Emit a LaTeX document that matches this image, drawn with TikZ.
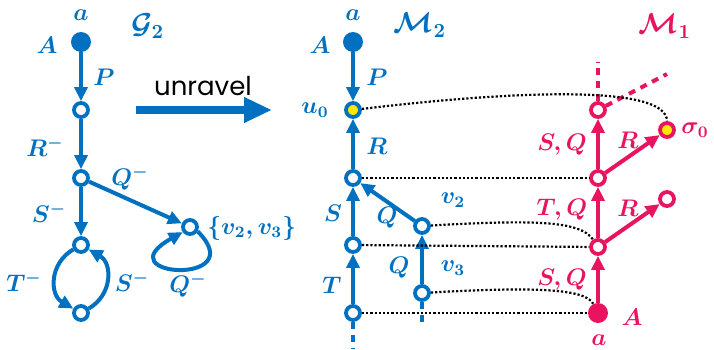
\documentclass[tikz,border=0pt]{standalone}
\usepackage{amsmath,amssymb}
\usepackage{fontspec}
\newfontfamily\unravelfont{Poppins}
\usepackage{tikz}
\usetikzlibrary{arrows.meta}
\definecolor{gblue}{RGB}{0,112,192}
\definecolor{gred}{RGB}{232,20,95}
\definecolor{gyellow}{RGB}{255,232,0}
\tikzset{
  state/.style={circle, draw, fill=white, line width=1.9pt, minimum size=7pt, inner sep=0pt},
  root/.style={circle, fill, minimum size=10pt, inner sep=0pt},
  start/.style={state, fill=gyellow},
  arrowline/.style={-{Triangle[length=7pt,width=6.5pt]}, line width=2pt},
  stub/.style={line width=2pt, dash pattern=on 3.5pt off 3pt},
  link/.style={black, line width=1.1pt, dash pattern=on 1.1pt off 1pt},
  lbl/.style={font=\large\boldmath, inner sep=1pt},
  title/.style={font=\Large\boldmath, inner sep=1pt}
}

\begin{document}
\begin{tikzpicture}[x=0.5pt, y=-0.5pt]
  \useasboundingbox (0,0) rectangle (714,349);

  % G_2
  \begin{scope}[color=gblue]
    \node[root] (gA) at (81,42) {};
    \node[state] (g1) at (81,110) {};
    \node[state] (g2) at (81,178) {};
    \node[state] (g3) at (81,245) {};
    \node[state] (g4) at (81,313) {};
    \node[state] (gv) at (190,227) {};

    \node[lbl] (ga) at (81,15) {$a$};
    \node[lbl] (gAl) at (47,45) {$A$};
    \node[title] (gname) at (148,26) {$\mathcal{G}_2$};
    \node[lbl] (gP) at (104,77) {$P$};
    \node[lbl] (gR) at (45,147) {$R^-$};
    \node[lbl] (gS) at (49,213) {$S^-$};
    \node[lbl] (gQ) at (130,178) {$Q^-$};
    \node[lbl, anchor=west] (gvl) at (205,228) {$\{v_2,v_3\}$};
    \node[lbl] (gT2) at (24,282) {$T^-$};
    \node[lbl] (gS2) at (132,282) {$S^-$};
    \node[lbl] (gQ2) at (188,285) {$Q^-$};

    \draw[arrowline] (gA) -- (g1);
    \draw[arrowline] (g1) -- (g2);
    \draw[arrowline] (g2) -- (g3);
    \draw[arrowline] (g2) -- (gv);
    \draw[arrowline] (g3) to[bend right=60, looseness=1.2] (g4);
    \draw[arrowline] (g4) to[bend right=60, looseness=1.2] (g3);
    \draw[arrowline] (gv.-30) .. controls +(55,55) and +(-80,45) .. (gv.-145);

    % unravel
    \coordinate (un1) at (136,110);
    \coordinate (un2) at (272,110);
    \draw[line width=3.6pt, -{Triangle[length=14pt,width=12pt]}] (un1) -- (un2);
  \end{scope}
  \node[font=\unravelfont\fontsize{13}{15}\selectfont, inner sep=0pt] (unl) at (203,86) {unravel};

  % M_2
  \begin{scope}[color=gblue]
    \node[root] (mA) at (353,42) {};
    \node[start] (u0) at (353,110) {};
    \node[state] (m1) at (353,178) {};
    \node[state] (m2) at (353,245) {};
    \node[state] (m3) at (353,313) {};
    \node[state] (v2) at (422,226) {};
    \node[state] (v3) at (422,293) {};
    \coordinate (m3end) at (353,349);
    \coordinate (v3end) at (422,324);

    \node[lbl] (ma) at (353,15) {$a$};
    \node[lbl] (mAl) at (320,45) {$A$};
    \node[title] (mname) at (420,25) {$\mathcal{M}_2$};
    \node[lbl] (mP) at (377,77) {$P$};
    \node[lbl] (u0l) at (315,110) {$u_0$};
    \node[lbl] (mR) at (377,146) {$R$};
    \node[lbl] (v2l) at (453,200) {$v_2$};
    \node[lbl] (mS) at (333,213) {$S$};
    \node[lbl] (mQ1) at (387,218) {$Q$};
    \node[lbl] (mQ2) at (399,268) {$Q$};
    \node[lbl] (v3l) at (453,268) {$v_3$};
    \node[lbl] (mT) at (332,285) {$T$};

    \draw[arrowline] (mA) -- (u0);
    \draw[arrowline] (m1) -- (u0);
    \draw[arrowline] (m2) -- (m1);
    \draw[arrowline] (m3) -- (m2);
    \draw[arrowline] (v2) -- (m1);
    \draw[arrowline] (v3) -- (v2);
    \draw[stub] (m3) -- (m3end);
    \draw[stub] (v3) -- (v3end);
  \end{scope}

  % M_1
  \begin{scope}[color=gred]
    \node[root] (nA) at (598,313) {};
    \node[state] (n1) at (598,247) {};
    \node[state] (n2) at (598,178) {};
    \node[state] (n3) at (598,110) {};
    \node[start] (s0) at (667,130) {};
    \node[state] (r1) at (667,199) {};
    \coordinate (n3up) at (598,62);
    \coordinate (n3diag) at (667,74);

    \node[title] (nname) at (665,26) {$\mathcal{M}_1$};
    \node[lbl, anchor=west] (s0l) at (679,130) {$\sigma_0$};
    \node[lbl] (nSQ1) at (562,145) {$S,Q$};
    \node[lbl] (nR1) at (628,140) {$R$};
    \node[lbl] (nTQ) at (562,210) {$T,Q$};
    \node[lbl] (nR2) at (628,208) {$R$};
    \node[lbl] (nSQ2) at (562,280) {$S,Q$};
    \node[lbl] (nAl) at (632,317) {$A$};
    \node[lbl] (na) at (599,340) {$a$};

    \draw[arrowline] (nA) -- (n1);
    \draw[arrowline] (n1) -- (n2);
    \draw[arrowline] (n2) -- (n3);
    \draw[arrowline] (n2) -- (s0);
    \draw[arrowline] (n1) -- (r1);
    \draw[stub] (n3) -- (n3up);
    \draw[stub] (n3) -- (n3diag);
  \end{scope}

  % links between the models
  \draw[link] (u0) .. controls (520,90) and (667,85) .. (s0);
  \draw[link] (m1) -- (n2);
  \draw[link] (v2) .. controls (530,220) and (580,220) .. (n1);
  \draw[link] (m2) -- (n1);
  \draw[link] (v3) .. controls (530,287) and (585,288) .. (nA);
  \draw[link] (m3) -- (nA);
\end{tikzpicture}
\end{document}
